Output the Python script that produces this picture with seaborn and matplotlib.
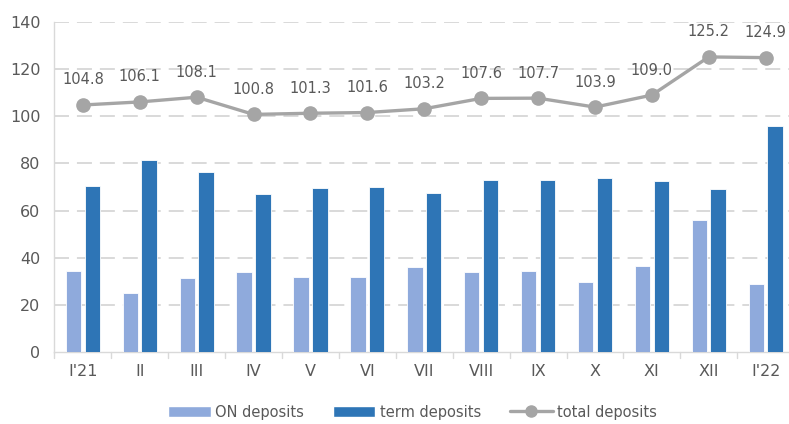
import numpy as np
import pandas as pd
import matplotlib
matplotlib.use("Agg")
import matplotlib.pyplot as plt
import seaborn as sns

months = ["I'21", "II", "III", "IV", "V", "VI", "VII", "VIII", "IX", "X", "XI", "XII", "I'22"]
on_deposits = [34.5, 25.0, 31.5, 34.0, 32.0, 32.0, 36.0, 34.0, 34.5, 29.5, 36.5, 56.0, 29.0]
term_deposits = [70.5, 81.5, 76.5, 67.0, 69.5, 70.0, 67.5, 73.0, 73.0, 74.0, 72.5, 69.0, 96.0]
total_deposits = [104.8, 106.1, 108.1, 100.8, 101.3, 101.6, 103.2, 107.6, 107.7, 103.9, 109.0, 125.2, 124.9]
yticks = [0, 20, 40, 60, 80, 100, 120, 140]

sns.set_theme(style="white")
plt.rcParams['font.family'] = ['DejaVu Sans']

c_on = "#8FAADC"
c_term = "#2E75B6"
c_tot = "#A5A5A5"
c_text = "#595959"
c_grid = "#D9D9D9"

df = pd.DataFrame({
    "month": months * 2,
    "value": on_deposits + term_deposits,
    "series": ["ON deposits"] * len(months) + ["term deposits"] * len(months),
})

fig = plt.figure(figsize=(7.89, 4.24), dpi=100)
ax = fig.add_axes([0.069, 0.170, 0.931, 0.778])

sns.barplot(data=df, x="month", y="value", hue="series", order=months,
            palette={"ON deposits": c_on, "term deposits": c_term},
            width=0.66, gap=0.18, ax=ax, legend=False, saturation=1,
            edgecolor="white", linewidth=0.6, zorder=3)

x = np.arange(len(months))
ax.plot(x, total_deposits, color=c_tot, lw=2.4, marker="o", markersize=9.5,
        zorder=4, label="total deposits")
for xi, v in zip(x, total_deposits):
    ax.annotate(f"{v:.1f}", (xi, v), xytext=(0, 18), textcoords="offset points",
                ha="center", va="center", fontsize=10.5, color=c_text)

ax.set_ylim(0, 140)
ax.set_xlim(-0.5, 12.41)
ax.set_yticks(yticks)
ax.set_yticklabels([str(t) for t in yticks], fontsize=11.5, color=c_text)
ax.set_xticks(x)
ax.set_xticklabels(months, fontsize=11.5, color=c_text)
ax.tick_params(axis="x", length=0, pad=9)
ax.tick_params(axis="y", length=0, pad=10)
ax.set_xlabel("")
ax.set_ylabel("")

for t in yticks[1:]:
    ax.axhline(t, color=c_grid, lw=1.4, ls=(0, (7.7, 4.1)), zorder=1)

for s in ["top", "right"]:
    ax.spines[s].set_visible(False)
ax.spines["left"].set_color(c_grid)
ax.spines["left"].set_linewidth(1.0)
ax.spines["bottom"].set_color(c_grid)
ax.spines["bottom"].set_linewidth(1.0)

# category boundary ticks
for b in np.arange(-0.5, 12.5, 1.0):
    ax.plot([b, b], [0, -2.5], color=c_grid, lw=1.0, clip_on=False, zorder=2)

from matplotlib.patches import Patch
from matplotlib.lines import Line2D
handles = [Patch(facecolor=c_on, label="ON deposits"),
           Patch(facecolor=c_term, label="term deposits"),
           Line2D([0], [0], color=c_tot, lw=2.4, marker="o", markersize=8, label="total deposits")]
fig.legend(handles=handles, loc="center", bbox_to_anchor=(0.523, 0.028), ncol=3,
           frameon=False, fontsize=10.5, labelcolor=c_text, handlelength=2.9,
           handleheight=0.8, columnspacing=2.0, handletextpad=0.3)

fig.savefig("out.png", dpi=100)
